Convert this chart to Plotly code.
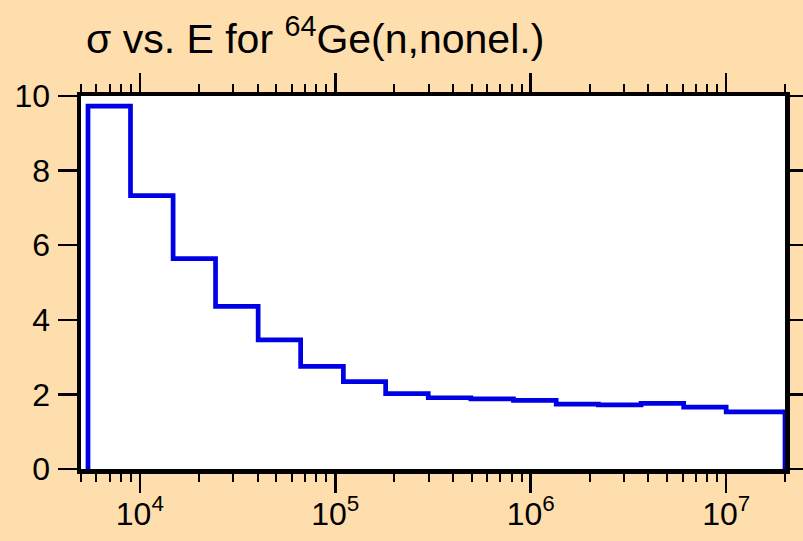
import plotly.graph_objects as go

# Group boundaries (eV) and cross sections (b)
energy_edges = [5.43e3, 8.96e3, 1.48e4, 2.44e4, 4.03e4, 6.65e4, 1.10e5, 1.81e5,
                2.99e5, 4.94e5, 8.16e5, 1.35e6, 2.22e6, 3.67e6, 6.06e6, 1.0e7, 2.0e7]
sigma_values = [9.73, 7.33, 5.64, 4.36, 3.46, 2.75, 2.34, 2.02,
                1.91, 1.88, 1.84, 1.74, 1.72, 1.76, 1.66, 1.53]

x_major = [1e4, 1e5, 1e6, 1e7]
x_major_text = ["10<sup>4</sup>", "10<sup>5</sup>", "10<sup>6</sup>", "10<sup>7</sup>"]
x_minor = [m * 10**d for d in range(3, 8) for m in range(2, 10) if 5e3 <= m * 10**d <= 2e7]
y_ticks = [0, 2, 4, 6, 8, 10]

title_text = "σ vs. E for <sup>64</sup>Ge(n,nonel.)"

# Histogram outline: start at zero, step through groups, drop back to zero
xs = [energy_edges[0]] + energy_edges
ys = [0] + sigma_values + [0]

fig = go.Figure()
fig.add_trace(go.Scatter(
    x=xs, y=ys, mode="lines",
    line=dict(color="rgb(0,0,230)", width=4.7, shape="hv"),
    showlegend=False, hoverinfo="skip",
))

font_family = "Liberation Sans, Arial, sans-serif"

fig.update_layout(
    width=803, height=541,
    paper_bgcolor="#FFDEAD", plot_bgcolor="white",
    margin=dict(l=81, r=18, t=96, b=72, autoexpand=False),
    font=dict(family=font_family, size=32, color="black"),
    annotations=[dict(
        text=title_text, xref="paper", yref="paper",
        x=0.004, y=1.16, xanchor="left", yanchor="middle",
        showarrow=False, font=dict(size=41, family=font_family, color="black"),
    )],
)

fig.update_xaxes(
    type="log", range=[3.69897, 7.30103], automargin=False,
    showline=True, linewidth=4.5, linecolor="black", mirror="ticks",
    showgrid=False, zeroline=False,
    tickmode="array", tickvals=x_major, ticktext=x_major_text,
    ticks="outside", ticklen=19, tickwidth=2.5, tickcolor="black",
    tickfont=dict(size=32), ticklabelstandoff=-6,
    minor=dict(tickmode="array", tickvals=x_minor, ticks="outside",
               ticklen=8, tickwidth=2, tickcolor="black", showgrid=False),
)
fig.update_yaxes(
    range=[0, 10], automargin=False,
    showline=True, linewidth=4.5, linecolor="black", mirror="ticks",
    showgrid=False, zeroline=False,
    tickmode="array", tickvals=y_ticks,
    ticks="outside", ticklen=19, tickwidth=2.5, tickcolor="black",
    tickfont=dict(size=32), ticklabelstandoff=1,
)

fig.write_html(
    "out.html",
    config={"displayModeBar": False, "staticPlot": True},
    post_script="document.body.style.margin='0';document.body.style.overflow='hidden';",
)
